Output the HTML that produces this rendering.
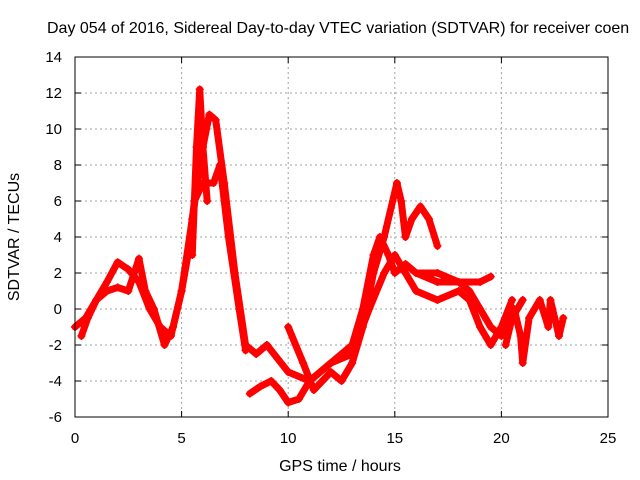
<!DOCTYPE html>
<html><head><meta charset="utf-8"><style>
body{margin:0;background:#fff}
svg{display:block;font-family:"Liberation Sans",sans-serif}
</style></head><body>
<svg id="chart" width="640" height="480" viewBox="0 0 640 480" xmlns="http://www.w3.org/2000/svg">
<rect width="640" height="480" fill="#fff"/>
<text x="47" y="33" font-size="16" fill="#000">Day 054 of 2016, Sidereal Day-to-day VTEC variation (SDTVAR) for receiver coen</text>
<g id="grid"></g>
<g id="series"></g>
<rect x="75" y="57" width="533" height="360" fill="none" stroke="#000" stroke-width="1"/>
<g id="ticks"></g>
<text transform="translate(19,237) rotate(-90)" text-anchor="middle" font-size="16">SDTVAR / TECUs</text>
<text x="340" y="471" text-anchor="middle" font-size="16">GPS time / hours</text>
</svg>
<script>
const xTicks=[0,5,10,15,20,25];
const yTicks=[-6,-4,-2,0,2,4,6,8,10,12,14];
const traceA_t=[0,0.5,1,1.5,2,2.5,3,3.5,4,4.5,5,5.5,6,6.3,6.6,7,7.5,8,8.5,9];
const traceA_v=[-1,-0.5,0.5,1.5,2.6,2.2,1.5,0,-1,-1.5,1,5,9,10.8,10.5,7,2,-2,-2.5,-2];
const traceB_t=[0.3,0.6,1,1.5,2,2.5,3,3.3,3.7,4.2,4.6,5,5.3,5.6,6,6.5,6.8,7.2,7.7,8];
const traceB_v=[-1.5,-0.5,0.5,1,1.2,1,2.8,1,0,-2,-1,1,3,6,7,7,8,4,0,-2.3];
const traceSpike_t=[5.5,5.7,5.85,6.0,6.2];
const traceSpike_v=[3,9,12.2,9,6];
const traceC_t=[8.2,8.7,9.2,9.6,10,10.5,11,11.5,12,12.5,13,13.5,14,14.3,14.7,15,15.5,16,17,18,19,19.5];
const traceC_v=[-4.7,-4.3,-4,-4.5,-5.2,-5,-4,-3.5,-3,-2.5,-2,0,3,4,3,2,2.5,2,1.5,1.5,1.5,1.8];
const traceD_t=[10,10.7,11.2,12,12.5,13,13.5,14,14.5,15.1,15.3,15.5,15.8,16.2,16.6,17];
const traceD_v=[-1,-3,-4.5,-3.5,-4,-3,-1,2,4,7,6,4,5,5.7,5,3.5];
const traceE_t=[9,10,11,12,13,13.8,14.5,15,15.5,16,17,18,18.5,19,19.5,20,20.5];
const traceE_v=[-2,-3.5,-4,-3,-2.5,0,2,3,2,1,0.5,1,0.5,-1,-2,-1,0.5];
const traceF_t=[16,17,18,18.5,19,19.5,20,20.5,21];
const traceF_v=[2,2,1.5,1,0,-1,-1.5,-0.5,0.5];
const traceG_t=[20.2,20.6,20.9,21,21.3,21.8,22.2,22.3,22.7,22.9];
const traceG_v=[-2,0,-1.5,-3,-0.5,0.5,-1,0.5,-1.5,-0.5];
const traces=[[traceA_t,traceA_v],[traceB_t,traceB_v],[traceSpike_t,traceSpike_v],[traceC_t,traceC_v],[traceD_t,traceD_v],[traceE_t,traceE_v],[traceF_t,traceF_v],[traceG_t,traceG_v]];
const X0=75,X1=608,Y0=417,Y1=57;
const xs=t=>X0+(t-0)/(25-0)*(X1-X0);
const ys=v=>Y0-(v+6)/(20)*(Y0-Y1);
const NS='http://www.w3.org/2000/svg';
const grid=document.getElementById('grid'),ticks=document.getElementById('ticks'),ser=document.getElementById('series');
function mk(tag,attrs,parent){const e=document.createElementNS(NS,tag);for(const k in attrs)e.setAttribute(k,attrs[k]);parent.appendChild(e);return e;}
xTicks.forEach(t=>{const x=xs(t);
 if(t>0&&t<25){const g=mk('line',{x1:x,x2:x,y1:Y1,y2:Y0,stroke:'#a0a0a0','stroke-dasharray':'2,3'},grid);
 
 }
 mk('line',{x1:x,x2:x,y1:Y0,y2:Y0-6,stroke:'#000'},ticks);mk('line',{x1:x,x2:x,y1:Y1,y2:Y1+6,stroke:'#000'},ticks);
 const l=mk('text',{x:x,y:443,'text-anchor':'middle','font-size':'15'},ticks);l.textContent=t;
 
 });
yTicks.forEach(v=>{const y=ys(v);
 if(v>-6&&v<14){const g=mk('line',{x1:X0,x2:X1,y1:y,y2:y,stroke:'#a0a0a0','stroke-dasharray':'2,3'},grid);
 
 }
 mk('line',{x1:X0,x2:X0+6,y1:y,y2:y,stroke:'#000'},ticks);mk('line',{x1:X1,x2:X1-6,y1:y,y2:y,stroke:'#000'},ticks);
 const l=mk('text',{x:62,y:y+5,'text-anchor':'end','font-size':'15'},ticks);l.textContent=v;
 
 });
traces.forEach(([T,V])=>{
 const pts=T.map((t,i)=>xs(t)+','+ys(V[i])).join(' ');
 const p=mk('polyline',{points:pts,fill:'none',stroke:'#f00','stroke-width':'7','stroke-linejoin':'round','stroke-linecap':'round'},ser);
 
 
 T.forEach((t,i)=>{const x=xs(t),y=ys(V[i]);
  const m=mk('path',{d:`M${x-4},${y}H${x+4}M${x},${y-4}V${y+4}`,stroke:'#f00','stroke-width':'1.5'},ser);
  
  });
});
</script>
</body></html>
